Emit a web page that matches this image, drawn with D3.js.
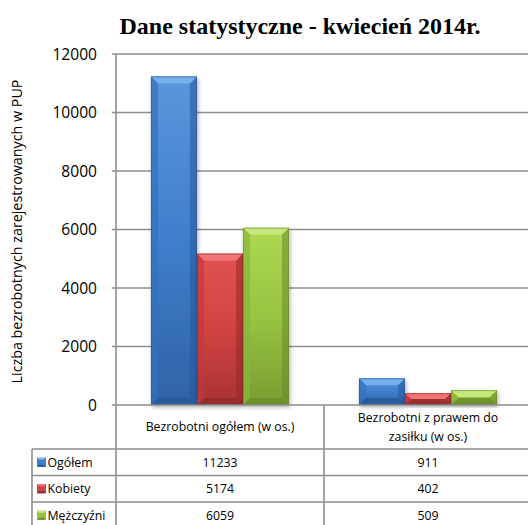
<!DOCTYPE html>
<html><head><meta charset="utf-8">
<script src="https://cdn.jsdelivr.net/npm/d3@7"></script>
<style>html,body{margin:0;padding:0;background:#fff;overflow:hidden}</style>
</head><body>
<svg id="c" width="528" height="525"></svg>
<script>
const title = "Dane statystyczne - kwiecień 2014r.";
const yAxisTitle = "Liczba bezrobotnych zarejestrowanych w PUP";
const categories = ["Bezrobotni ogółem (w os.)", "Bezrobotni z prawem do zasiłku (w os.)"];
const seriesNames = ["Ogółem", "Kobiety", "Mężczyźni"];
const ogolem = [11233, 911];
const kobiety = [5174, 402];
const mezczyzni = [6059, 509];
const yTicks = [0, 2000, 4000, 6000, 8000, 10000, 12000];

const seriesValues = [ogolem, kobiety, mezczyzni];
const palette = [
  {base:"#3f7ecb", top:"#5b96dd", bot:"#2e63a6", light:"#77b0ee", dark:"#28579a", side:"#3571bd"},
  {base:"#d14343", top:"#e35252", bot:"#a83232", light:"#f27575", dark:"#942a2a", side:"#bf3a3a"},
  {base:"#98c442", top:"#add851", bot:"#789d31", light:"#c7e87c", dark:"#6a8b2a", side:"#8ab53a"}
];

const svg = d3.select("#c");
const font = "'Open Sans', sans-serif";
const L = 116, R = 532, T = 54, B = 405;
const tableTop = 449, rowH = 26.5;

const defs = svg.append("defs");
palette.forEach((p, i) => {
  const g = defs.append("linearGradient").attr("id", "g" + i).attr("x1", 0).attr("y1", 0).attr("x2", 0).attr("y2", 1);
  g.append("stop").attr("offset", "0%").attr("stop-color", p.top);
  g.append("stop").attr("offset", "50%").attr("stop-color", p.base);
  g.append("stop").attr("offset", "100%").attr("stop-color", p.bot);
});
const f = defs.append("filter").attr("id", "sh").attr("x", "-20%").attr("y", "-20%").attr("width", "140%").attr("height", "140%");
f.append("feGaussianBlur").attr("in", "SourceAlpha").attr("stdDeviation", 2);
f.append("feOffset").attr("dx", 1).attr("dy", 2).attr("result", "o");
f.append("feComponentTransfer").append("feFuncA").attr("type", "linear").attr("slope", 0.35);
const fm = f.append("feMerge"); fm.append("feMergeNode"); fm.append("feMergeNode").attr("in", "SourceGraphic");

const y = d3.scaleLinear().domain([0, 12000]).range([B, T]);
const x0 = d3.scaleBand().domain(categories).range([L, R]).paddingInner(0).paddingOuter(0);
const x1 = d3.scaleBand().domain(seriesNames).range([0, x0.bandwidth()]).paddingInner(0).paddingOuter(0.76);

// title
svg.append("text").attr("x", 300).attr("y", 34).attr("text-anchor", "middle")
  .attr("font-family", "'Liberation Serif', 'Times New Roman', serif").attr("font-weight", "bold")
  .attr("font-size", 24).attr("fill", "#000").text(title);

// gridlines
const gridColor = "#8e8e8e";
svg.append("g").selectAll("line").data(yTicks.filter(d => d > 0)).join("line")
  .attr("x1", L - 4).attr("x2", R).attr("y1", d => y(d)).attr("y2", d => y(d))
  .attr("stroke", gridColor).attr("stroke-width", 1.6);

// y axis via d3
const yAxis = d3.axisLeft(y).tickValues(yTicks).tickSize(0).tickPadding(19).tickFormat(d3.format("d"));
const ga = svg.append("g").attr("transform", `translate(${L},0)`).call(yAxis);
ga.select(".domain").remove();
ga.selectAll("text").attr("font-family", font).attr("font-size", 15.6).attr("fill", "#000");

// y axis title
svg.append("text").attr("transform", `translate(22,${(T + B) / 2 + 2}) rotate(-90)`)
  .attr("text-anchor", "middle").attr("font-family", font).attr("font-size", 14.3).attr("fill", "#000")
  .text(yAxisTitle);

// bars
const gb = svg.append("g");
categories.forEach((cat, ci) => {
  seriesNames.forEach((s, si) => {
    const v = seriesValues[si][ci];
    const xa = x0(cat) + x1(s), xb = xa + x1.bandwidth();
    const ya = y(v), yb = y(0);
    const p = palette[si];
    const g = gb.append("g");
    g.append("rect").attr("x", xa).attr("y", ya).attr("width", xb - xa).attr("height", yb - ya)
      .attr("fill", `url(#g${si})`).attr("filter", "url(#sh)");
    const b = Math.min(7, (yb - ya) / 2, (xb - xa) / 2);
    const poly = pts => g.append("polygon").attr("points", pts.map(q => q.join(",")).join(" "));
    poly([[xa, ya], [xb, ya], [xb - b, ya + b], [xa + b, ya + b]]).attr("fill", p.light);
    poly([[xa, yb], [xb, yb], [xb - b, yb - b], [xa + b, yb - b]]).attr("fill", p.dark).attr("opacity", 0.8);
    poly([[xa, ya], [xa + b, ya + b], [xa + b, yb - b], [xa, yb]]).attr("fill", p.side).attr("opacity", 0.7);
    poly([[xb, ya], [xb - b, ya + b], [xb - b, yb - b], [xb, yb]]).attr("fill", p.dark).attr("opacity", 0.55);
    g.append("rect").attr("x", xa + 0.5).attr("y", ya + 0.5).attr("width", xb - xa - 1).attr("height", yb - ya - 1)
      .attr("fill", "none").attr("stroke", p.dark).attr("stroke-width", 1).attr("opacity", 0.6);
  });
});

// table / axis lines
const lineColor = "#8e8e8e";
const tl = svg.append("g").attr("stroke", lineColor).attr("stroke-width", 1.6);
const nRows = seriesNames.length;
const tableBottom = tableTop + rowH * nRows;
tl.append("line").attr("x1", L).attr("x2", L).attr("y1", T).attr("y2", tableBottom + 5);
tl.append("line").attr("x1", L - 4).attr("x2", R).attr("y1", B).attr("y2", B);
categories.forEach((c, i) => {
  if (i > 0) tl.append("line").attr("x1", x0(c)).attr("x2", x0(c)).attr("y1", B).attr("y2", tableBottom + 5);
});
tl.append("line").attr("x1", 32).attr("x2", 32).attr("y1", tableTop).attr("y2", tableBottom + 5);
for (let r = 0; r <= nRows; r++) {
  tl.append("line").attr("x1", 32).attr("x2", R).attr("y1", tableTop + r * rowH).attr("y2", tableTop + r * rowH);
}

// category header labels (wrapped)
function wrapLines(text, maxW, fs) {
  const tmp = svg.append("text").attr("font-family", font).attr("font-size", fs);
  const words = text.split(" "); const lines = []; let cur = "";
  words.forEach(w => {
    const t = cur ? cur + " " + w : w;
    tmp.text(t);
    if (tmp.node().getComputedTextLength() > maxW && cur) { lines.push(cur); cur = w; } else cur = t;
  });
  lines.push(cur); tmp.remove(); return lines;
}
const tfs = 12.3;
categories.forEach(c => {
  const lines = wrapLines(c, 175, tfs);
  const cx = x0(c) + x0.bandwidth() / 2, cy = (B + tableTop) / 2;
  const lh = 19;
  lines.forEach((ln, i) => {
    svg.append("text").attr("x", cx).attr("y", cy + (i - (lines.length - 1) / 2) * lh)
      .attr("dy", "0.35em").attr("text-anchor", "middle").attr("font-family", font).attr("font-size", tfs)
      .attr("fill", "#000").text(ln);
  });
});

// data rows
seriesNames.forEach((s, si) => {
  const cy = tableTop + rowH * si + rowH / 2;
  const p = palette[si];
  svg.append("rect").attr("x", 37).attr("y", cy - 4.5).attr("width", 9).attr("height", 9).attr("fill", p.base);
  svg.append("polygon").attr("points", `37,${cy - 4.5} 46,${cy - 4.5} 44,${cy - 2.5} 39,${cy - 2.5}`).attr("fill", p.light);
  svg.append("polygon").attr("points", `37,${cy + 4.5} 46,${cy + 4.5} 44,${cy + 2.5} 39,${cy + 2.5}`).attr("fill", p.dark);
  svg.append("text").attr("x", 47.5).attr("y", cy).attr("dy", "0.35em").attr("font-family", font)
    .attr("font-size", tfs).attr("fill", "#000").text(s);
  categories.forEach((c, ci) => {
    svg.append("text").attr("x", x0(c) + x0.bandwidth() / 2).attr("y", cy).attr("dy", "0.35em")
      .attr("text-anchor", "middle").attr("font-family", font).attr("font-size", tfs).attr("fill", "#000")
      .text(seriesValues[si][ci]);
  });
});
</script>
</body></html>
